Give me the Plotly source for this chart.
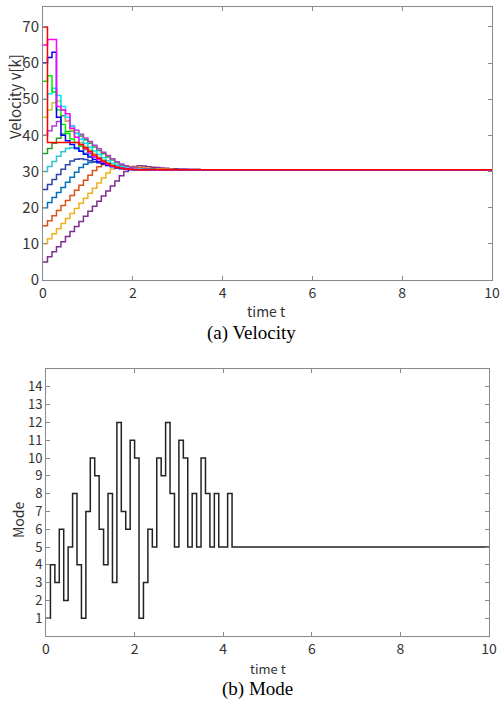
import plotly.graph_objects as go
from plotly.subplots import make_subplots

DT = 0.1
T_END = 10

# Mode sequence, one value per 0.1 s step, held to t=10 afterwards
mode_vals = [1, 4, 3, 6, 2, 5, 8, 4, 1, 7, 10, 9, 6, 4, 8, 3, 12, 7, 6, 11,
             10, 1, 3, 6, 5, 10, 9, 12, 8, 5, 11, 10, 5, 8, 5, 10, 8, 5, 8, 5,
             5, 8, 5]

# Velocity of each vehicle per 0.1 s step (held constant afterwards)
v05 = [5, 6.4, 7.8, 9.2, 10.6, 12, 13.4, 14.8, 16.2, 17.6, 19, 20.4, 21.8, 23.2, 24.6, 26, 27.4, 28.8, 30, 30.9, 31.4, 31.6, 31.5, 31.3, 31.2, 31.1, 31, 30.9, 30.8, 30.8, 30.7, 30.7, 30.6, 30.6, 30.6, 30.5]
v10 = [10, 11.4, 12.8, 14.2, 15.6, 17, 18.4, 19.8, 21.2, 22.6, 24, 25.4, 26.8, 28.2, 29.6, 30.7, 31.4, 31.7, 31.6, 31.4, 31.2, 31.1, 31, 30.9, 30.8, 30.7, 30.7, 30.6, 30.6, 30.5]
v15 = [15, 16.4, 17.8, 19.2, 20.6, 22, 23.4, 24.8, 26.2, 27.6, 29, 30.3, 31.3, 31.9, 32.1, 32, 31.8, 31.6, 31.4, 31.2, 31.1, 31, 30.9, 30.8, 30.7, 30.6, 30.6, 30.5]
v20 = [20, 21.4, 22.8, 24.2, 25.6, 27, 28.4, 29.8, 31.1, 32, 32.5, 32.6, 32.5, 32.3, 32.1, 31.9, 31.6, 31.4, 31.2, 31, 30.9, 30.8, 30.7, 30.6, 30.6, 30.5]
v25 = [25, 26.4, 27.8, 29.2, 30.6, 31.9, 32.9, 33.4, 33.5, 33.3, 33, 32.7, 32.4, 32.1, 31.8, 31.5, 31.3, 31.1, 30.9, 30.8, 30.7, 30.6, 30.5]
v30 = [30, 31.4, 32.8, 34.2, 35.5, 36.4, 36.6, 36.2, 35.7, 35.1, 34.5, 33.9, 33.4, 32.9, 32.4, 32, 31.7, 31.4, 31.2, 31, 30.8, 30.7, 30.6, 30.5]
v35 = [35, 36.4, 37.8, 39.2, 40.4, 41.1, 41.2, 40.6, 39.8, 38.8, 37.8, 36.8, 35.8, 34.9, 34, 33.2, 32.5, 31.9, 31.5, 31.2, 31, 30.8, 30.7, 30.6, 30.5]
v40 = [40, 41.3, 42.6, 43.8, 45.4, 44, 42.6, 41.4, 40.3, 39.3, 38.3, 37.3, 36.3, 35.3, 34.4, 33.5, 32.7, 32.1, 31.6, 31.2, 31, 30.8, 30.7, 30.6, 30.5]
v45 = [45, 47, 49, 49.5, 47, 44, 41.5, 39.5, 38, 37, 36, 35, 34, 33.2, 32.5, 31.9, 31.5, 31.2, 31, 30.8, 30.7, 30.6, 30.5]
v50 = [50, 51.5, 53, 51, 48, 45, 42.5, 40.5, 39, 37.8, 36.7, 35.7, 34.7, 33.8, 33, 32.3, 31.7, 31.3, 31, 30.8, 30.7, 30.6, 30.5]
v55 = [55, 56.5, 52, 47, 43, 40.5, 39, 38, 37, 36, 35, 34.1, 33.3, 32.6, 32, 31.6, 31.2, 30.9, 30.7, 30.6, 30.5]
v60 = [60, 61.5, 63, 45, 40, 38.5, 37.5, 36.5, 35.6, 34.8, 34, 33.3, 32.7, 32.2, 31.7, 31.3, 31, 30.8, 30.6, 30.5]
v65 = [65, 66.5, 66.5, 48, 47, 46, 42, 39.5, 37.5, 36.2, 35.1, 34.1, 33.3, 32.6, 32, 31.5, 31.2, 31, 30.8, 30.7, 30.6, 30.5]
v70 = [70, 38, 38, 38, 38, 38, 38, 38, 37.5, 36.6, 35.6, 34.6, 33.7, 32.9, 32.2, 31.6, 31.2, 30.9, 30.7, 30.6, 30.5]

series = [
    (v05, "#7E2F8E"), (v10, "#EDB120"), (v15, "#D95319"), (v20, "#0072BD"),
    (v25, "#2E45A8"), (v30, "#2EC4D4"), (v35, "#2E9A2E"), (v40, "#B040C8"),
    (v45, "#C8C832"), (v50, "#00E5FF"), (v55, "#00EE00"), (v60, "#0000FF"),
    (v65, "#FF00FF"), (v70, "#FF0000"),
]

fig = make_subplots(rows=2, cols=1)

for vals, col in series:
    xs = [i * DT for i in range(len(vals))] + [T_END]
    ys = list(vals) + [vals[-1]]
    fig.add_trace(go.Scatter(x=xs, y=ys, mode="lines", line=dict(color=col, width=1.5, shape="hv"),
                             showlegend=False, hoverinfo="skip"), row=1, col=1)

mx = [i * DT for i in range(len(mode_vals))] + [T_END]
my = list(mode_vals) + [mode_vals[-1]]
fig.add_trace(go.Scatter(x=mx, y=my, mode="lines", line=dict(color="#222222", width=1.5, shape="hv"),
                         showlegend=False, hoverinfo="skip"), row=2, col=1)

FONT = "Noto Sans CJK JP"
axis_common = dict(showgrid=False, zeroline=False, showline=True, linecolor="#8a8a8a", linewidth=1,
                   mirror="ticks", ticks="inside", ticklen=4, tickcolor="#8a8a8a", automargin=False,
                   tickfont=dict(family=FONT, size=14, color="#333333"))

fig.update_xaxes(axis_common)
fig.update_yaxes(axis_common)

fig.update_xaxes(range=[0, 10], tickvals=[0, 2, 4, 6, 8, 10], row=1, col=1)
fig.update_yaxes(range=[0, 75.5], tickvals=[0, 10, 20, 30, 40, 50, 60, 70], tickfont=dict(size=15), row=1, col=1)
fig.update_xaxes(range=[0, 10], tickvals=[0, 2, 4, 6, 8, 10], row=2, col=1)
fig.update_yaxes(range=[0, 15], tickvals=list(range(1, 15)), tickfont=dict(size=13), row=2, col=1)

def ann(text, x, y, size, family=FONT, color="#333333", angle=0):
    return dict(text=text, x=x / 502, y=1 - y / 702, xref="paper", yref="paper", showarrow=False,
                textangle=angle, xanchor="center", yanchor="middle",
                font=dict(family=family, size=size, color=color))

fig.update_layout(
    width=502, height=702, margin=dict(l=0, r=0, t=0, b=0),
    paper_bgcolor="white", plot_bgcolor="white",
    xaxis=dict(domain=[43 / 502, 492 / 502]),
    yaxis=dict(domain=[1 - 280 / 702, 1 - 7 / 702]),
    xaxis2=dict(domain=[46 / 502, 489 / 502]),
    yaxis2=dict(domain=[1 - 636 / 702, 1 - 369 / 702]),
    annotations=[
        ann("time t", 266, 311, 14),
        ann("Velocity v[k]", 14, 97, 15, angle=-90),
        ann("(a) Velocity", 251, 333, 19, family="Liberation Serif", color="black"),
        ann("time t", 268, 668, 13),
        ann("Mode", 18, 520, 14, angle=-90),
        ann("(b) Mode", 257, 689, 19, family="Liberation Serif", color="black"),
    ],
)

fig.write_html("out.html", config={"displayModeBar": False},
               post_script="document.body.style.margin='0';document.body.style.overflow='hidden';")
